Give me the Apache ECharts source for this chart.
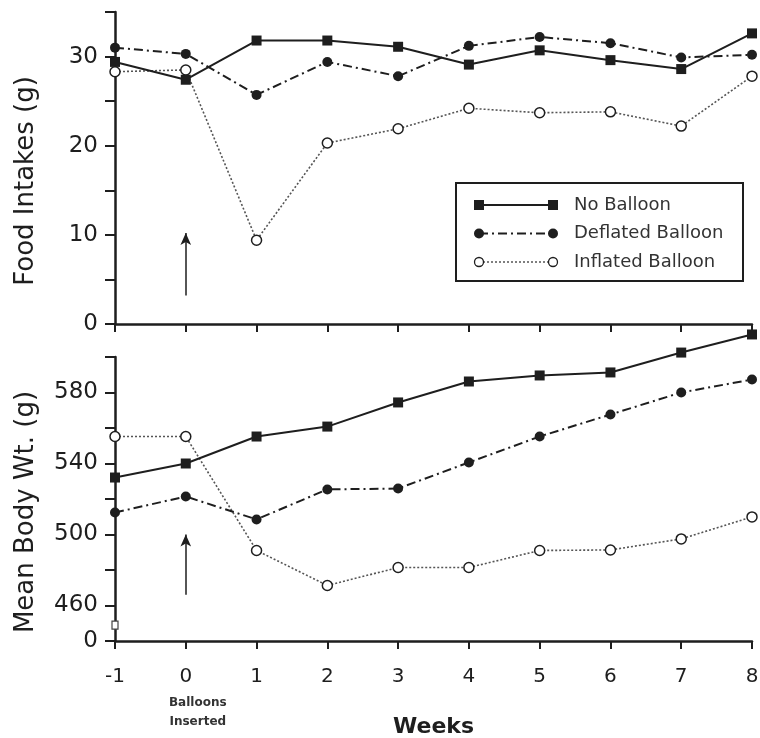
<!DOCTYPE html>
<html>
<head>
<meta charset="utf-8">
<title>Food intake and body weight</title>
<script src="https://cdn.jsdelivr.net/npm/echarts@6/dist/echarts.min.js"></script>
<style>
  html, body { margin: 0; padding: 0; background: #fff; }
  #chart { width: 760px; height: 738px; }
</style>
</head>
<body>
<div id="chart"></div>
<script>
// weeks relative to balloon insertion
var weeks = [-1, 0, 1, 2, 3, 4, 5, 6, 7, 8];
var seriesNames = ['No Balloon', 'Deflated Balloon', 'Inflated Balloon'];

// food intake (g)
var foodNo = [29.4, 27.4, 31.8, 31.8, 31.1, 29.1, 30.7, 29.6, 28.6, 32.6];
var foodDeflated = [31.0, 30.3, 25.7, 29.4, 27.8, 31.2, 32.2, 31.5, 29.9, 30.2];
var foodInflated = [28.3, 28.5, 9.4, 20.3, 21.9, 24.2, 23.7, 23.8, 22.2, 27.8];

// mean body weight (g)
var weightNo = [532.1, 540.0, 555.2, 560.8, 574.4, 586.2, 589.6, 591.3, 602.5, 612.7];
var weightDeflated = [512.4, 521.4, 508.5, 525.4, 525.9, 540.6, 555.2, 567.6, 580.0, 587.3];
var weightInflated = [555.2, 555.2, 491.0, 471.3, 481.4, 481.4, 491.0, 491.3, 497.5, 509.9];

// tick labels
var foodTicks = [0, 10, 20, 30];
var weightTicks = [460, 500, 540, 580];
var weightZero = 440; // broken axis: bottom of the scale is labelled 0

// arrows marking balloon insertion
var foodArrow = [3.2, 10.2];
var weightArrow = [466, 500];

var INK = '#1e1e1e';
var FONT = 'DejaVu Sans';

function pairs(values) {
    var out = [];
    for (var i = 0; i < weeks.length; i++) {
        out.push([weeks[i], values[i]]);
    }
    return out;
}

var styles = [
    { symbol: 'rect', color: INK, line: { color: INK, width: 2, type: 'solid' } },
    { symbol: 'circle', color: INK, line: { color: INK, width: 2, type: [9, 4, 2, 4] } },
    { symbol: 'circle', color: '#fff', line: { color: '#555', width: 1.6, type: [2, 2] } }
];

function makeSeries(name, idx, values, gridIdx) {
    var st = styles[idx];
    return {
        name: name,
        type: 'line',
        xAxisIndex: gridIdx,
        yAxisIndex: gridIdx,
        data: pairs(values),
        symbol: st.symbol,
        symbolSize: 10,
        showAllSymbol: true,
        clip: false,
        z: 5 - idx,
        itemStyle: { color: st.color, borderColor: INK, borderWidth: idx == 2 ? 1.5 : 0 },
        lineStyle: st.line,
        emphasis: { disabled: true }
    };
}

function arrow(range) {
    return {
        silent: true,
        symbol: ['none', 'arrow'],
        symbolSize: [8, 12],
        label: { show: false },
        lineStyle: { color: INK, width: 1.5, type: 'solid' },
        data: [[{ coord: [0, range[0]] }, { coord: [0, range[1]] }]]
    };
}

function xAxis(gridIdx, showLabels) {
    return {
        type: 'value',
        gridIndex: gridIdx,
        min: -1,
        max: 8,
        interval: 1,
        axisLine: { onZero: false, lineStyle: { color: INK, width: 2.5 } },
        axisTick: { show: true, length: 8, lineStyle: { color: INK, width: 2 } },
        splitLine: { show: false },
        axisLabel: {
            show: showLabels,
            margin: 25,
            color: INK,
            fontFamily: FONT,
            fontSize: 20,
            lineHeight: 22,
            formatter: function(v) {
                if (v == 0) {
                    return '0\n{g| }\n{b|Balloons}\n{b|Inserted}';
                }
                return String(v);
            },
            rich: {
                g: { fontSize: 4, lineHeight: 5 },
                b: { fontSize: 12, fontWeight: 'bold', color: '#333', fontFamily: FONT, lineHeight: 19, padding: [0, 0, 0, 24] }
            }
        },
        name: showLabels ? 'Weeks' : '',
        nameLocation: 'middle',
        nameGap: 75,
        nameMoveOverlap: false,
        nameTextStyle: { color: INK, fontFamily: FONT, fontSize: 22, fontWeight: 'bold' }
    };
}

function yAxis(gridIdx, name, min, max, interval, ticks, zeroAt) {
    return {
        type: 'value',
        gridIndex: gridIdx,
        min: min,
        max: max,
        interval: interval,
        axisLine: { show: true, onZero: false, lineStyle: { color: INK, width: 2.5 } },
        axisTick: { show: true, length: 10, lineStyle: { color: INK, width: 2 } },
        splitLine: { show: false },
        axisLabel: {
            margin: 17,
            color: INK,
            fontFamily: FONT,
            fontSize: 23,
            showMaxLabel: true,
            formatter: function(v) {
                if (zeroAt != null && v == zeroAt) {
                    return '0';
                }
                return ticks.indexOf(v) >= 0 ? String(v) : '';
            }
        },
        name: name,
        nameLocation: 'middle',
        nameGap: 76,
        nameMoveOverlap: false,
        nameTextStyle: { color: INK, fontFamily: FONT, fontSize: 26, padding: [0, 26, 0, 0] }
    };
}

var chart = echarts.init(document.getElementById('chart'), null, { renderer: 'canvas' });

var series = [
    makeSeries(seriesNames[0], 0, foodNo, 0),
    makeSeries(seriesNames[1], 1, foodDeflated, 0),
    makeSeries(seriesNames[2], 2, foodInflated, 0),
    makeSeries(seriesNames[0], 0, weightNo, 1),
    makeSeries(seriesNames[1], 1, weightDeflated, 1),
    makeSeries(seriesNames[2], 2, weightInflated, 1)
];
series[0].markLine = arrow(foodArrow);
series[3].markLine = arrow(weightArrow);

// legend drawn by hand so each sample has a marker at both ends
var legendItems = [];
var legendLeft = 456, legendTop = 183;
legendItems.push({
    type: 'rect',
    shape: { x: legendLeft, y: legendTop, width: 287, height: 98 },
    style: { fill: '#fff', stroke: INK, lineWidth: 2 },
    z: 10
});
for (var i = 0; i < seriesNames.length; i++) {
    var st = styles[i];
    var ly = legendTop + 22 + i * 28.5;
    legendItems.push({
        type: 'line',
        shape: { x1: legendLeft + 23, y1: ly, x2: legendLeft + 97, y2: ly },
        style: { stroke: st.line.color, lineWidth: st.line.width, lineDash: st.line.type == 'solid' ? null : st.line.type },
        z: 11
    });
    for (var k = 0; k < 2; k++) {
        var cx = legendLeft + 23 + k * 74;
        if (st.symbol == 'rect') {
            legendItems.push({ type: 'rect', shape: { x: cx - 5, y: ly - 5, width: 10, height: 10 }, style: { fill: INK }, z: 12 });
        } else {
            legendItems.push({
                type: 'circle',
                shape: { cx: cx, cy: ly, r: i == 2 ? 4.5 : 5 },
                style: { fill: st.color, stroke: INK, lineWidth: i == 2 ? 1.3 : 0 },
                z: 12
            });
        }
    }
    legendItems.push({
        type: 'text',
        x: legendLeft + 118,
        y: ly,
        style: { text: seriesNames[i], fill: '#333', font: '18px "' + FONT + '"', verticalAlign: 'middle' },
        z: 12
    });
}

var option = {
    animation: false,
    backgroundColor: '#fff',
    grid: [
        { left: 115, top: 12, width: 637, height: 312, outerBoundsMode: 'none' },
        { left: 115, top: 357, width: 637, height: 284, outerBoundsMode: 'none' }
    ],
    xAxis: [xAxis(0, false), xAxis(1, true)],
    yAxis: [
        yAxis(0, 'Food Intakes (g)', 0, 35, 5, foodTicks, null),
        yAxis(1, 'Mean Body Wt. (g)', weightZero, 600, 20, weightTicks, weightZero)
    ],
    series: series,
    graphic: legendItems
};
chart.setOption(option);

// small break mark on the body weight axis
var bp = chart.convertToPixel({ gridIndex: 1 }, [-1, 449]);
legendItems.push({
    type: 'rect',
    shape: { x: bp[0] - 3, y: bp[1] - 4, width: 6, height: 8 },
    style: { fill: '#fff', stroke: '#444', lineWidth: 1.2 },
    z: 10
});
chart.setOption({ graphic: legendItems });
</script>
</body>
</html>
